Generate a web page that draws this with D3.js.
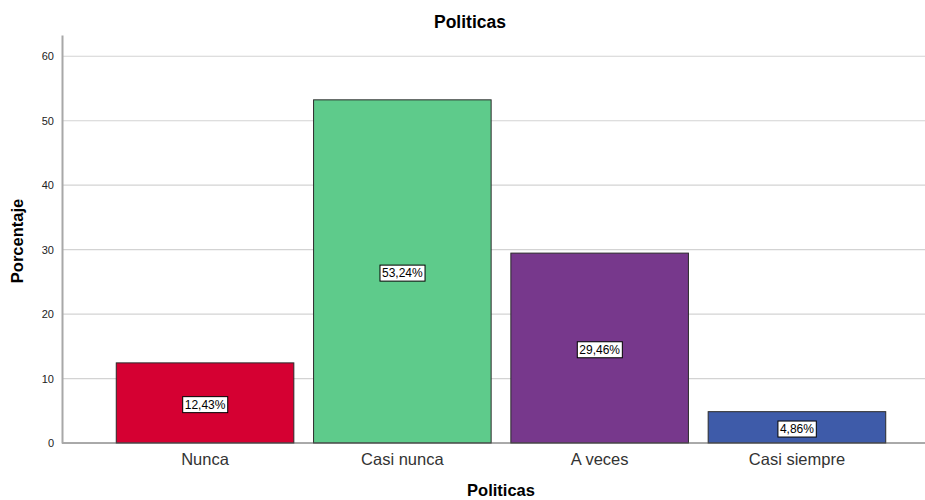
<!DOCTYPE html>
<html>
<meta charset="utf-8">
<title>Politicas</title>
<head>
  <script src="https://cdnjs.cloudflare.com/ajax/libs/d3/7.8.5/d3.min.js"></script>
  <style>
    body { margin: 0; background: #fff; }
    text { font-family: Arial, "Liberation Sans", sans-serif; }
  </style>
</head>
<body>
<script>
  var categories = ['Nunca', 'Casi nunca', 'A veces', 'Casi siempre'];
  var values = [12.43, 53.24, 29.46, 4.86];
  var labels = ['12,43%', '53,24%', '29,46%', '4,86%'];
  var colors = ['#d50032', '#5ecb8b', '#77388c', '#3e5ba9'];
  var yTicks = [0, 10, 20, 30, 40, 50, 60];

  var W = 925, H = 500;
  var plotLeft = 62, plotRight = 925, plotTop = 35, plotBottom = 443;

  var svg = d3.select('body').append('svg')
      .attr('width', W)
      .attr('height', H);

  var x = d3.scaleBand()
      .domain(categories)
      .range([106.4, 895.6])
      .paddingInner(0.1)
      .paddingOuter(0.05);

  var y = d3.scaleLinear()
      .domain([0, 63.3])
      .range([plotBottom, plotTop]);

  // gridlines
  svg.append('g').selectAll('line')
      .data(yTicks.filter(function(d) { return d > 0; }))
      .enter().append('line')
      .attr('x1', plotLeft).attr('x2', plotRight)
      .attr('y1', function(d) { return y(d); })
      .attr('y2', function(d) { return y(d); })
      .style('stroke', '#d3d3d3')
      .style('stroke-width', 1.2);

  // bars
  svg.append('g').selectAll('rect')
      .data(values)
      .enter().append('rect')
      .attr('x', function(d, i) { return x(categories[i]); })
      .attr('y', function(d) { return y(d); })
      .attr('width', x.bandwidth())
      .attr('height', function(d) { return y(0) - y(d); })
      .style('fill', function(d, i) { return colors[i]; })
      .style('stroke', '#2b2b2b')
      .style('stroke-width', 1);

  // baseline
  svg.append('line')
      .attr('x1', plotLeft).attr('x2', plotRight)
      .attr('y1', y(0)).attr('y2', y(0))
      .style('stroke', '#555')
      .style('stroke-width', 1);

  // y axis
  var yAxis = svg.append('g')
      .attr('transform', 'translate(' + plotLeft + ',0)')
      .call(d3.axisLeft(y).tickValues(yTicks).tickSize(0).tickPadding(8));
  yAxis.select('.domain').style('stroke', '#a8a8a8').style('stroke-width', 2);
  yAxis.selectAll('text').style('font-size', '11px').style('fill', '#222');

  // x axis labels
  var xAxis = svg.append('g')
      .attr('transform', 'translate(0,' + plotBottom + ')')
      .call(d3.axisBottom(x).tickSize(0).tickPadding(10));
  xAxis.select('.domain').remove();
  xAxis.selectAll('text').style('font-size', '16.5px').style('fill', '#333');

  // value labels
  var lab = svg.append('g').selectAll('g')
      .data(values)
      .enter().append('g')
      .attr('transform', function(d, i) {
        return 'translate(' + (x(categories[i]) + x.bandwidth() / 2) + ',' + (y(d / 2) + 1.5) + ')';
      });
  lab.append('text')
      .attr('text-anchor', 'middle')
      .attr('dy', '0.35em')
      .style('font-size', '12px')
      .style('fill', '#000')
      .text(function(d, i) { return labels[i]; });
  lab.each(function() {
    var g = d3.select(this);
    var b = g.select('text').node().getBBox();
    g.insert('rect', 'text')
        .attr('x', b.x - 2).attr('y', b.y - 1)
        .attr('width', b.width + 4).attr('height', b.height + 2)
        .style('fill', '#fff')
        .style('stroke', '#000')
        .style('stroke-width', 1);
  });

  // titles
  svg.append('text')
      .attr('x', 470).attr('y', 28)
      .attr('text-anchor', 'middle')
      .style('font-size', '17.5px').style('font-weight', 'bold')
      .text('Politicas');

  svg.append('text')
      .attr('x', 501).attr('y', 496)
      .attr('text-anchor', 'middle')
      .style('font-size', '16.5px').style('font-weight', 'bold')
      .text('Politicas');

  svg.append('text')
      .attr('transform', 'translate(23,241) rotate(-90)')
      .attr('text-anchor', 'middle')
      .style('font-size', '16.5px').style('font-weight', 'bold')
      .text('Porcentaje');
</script>
</body>
</html>
